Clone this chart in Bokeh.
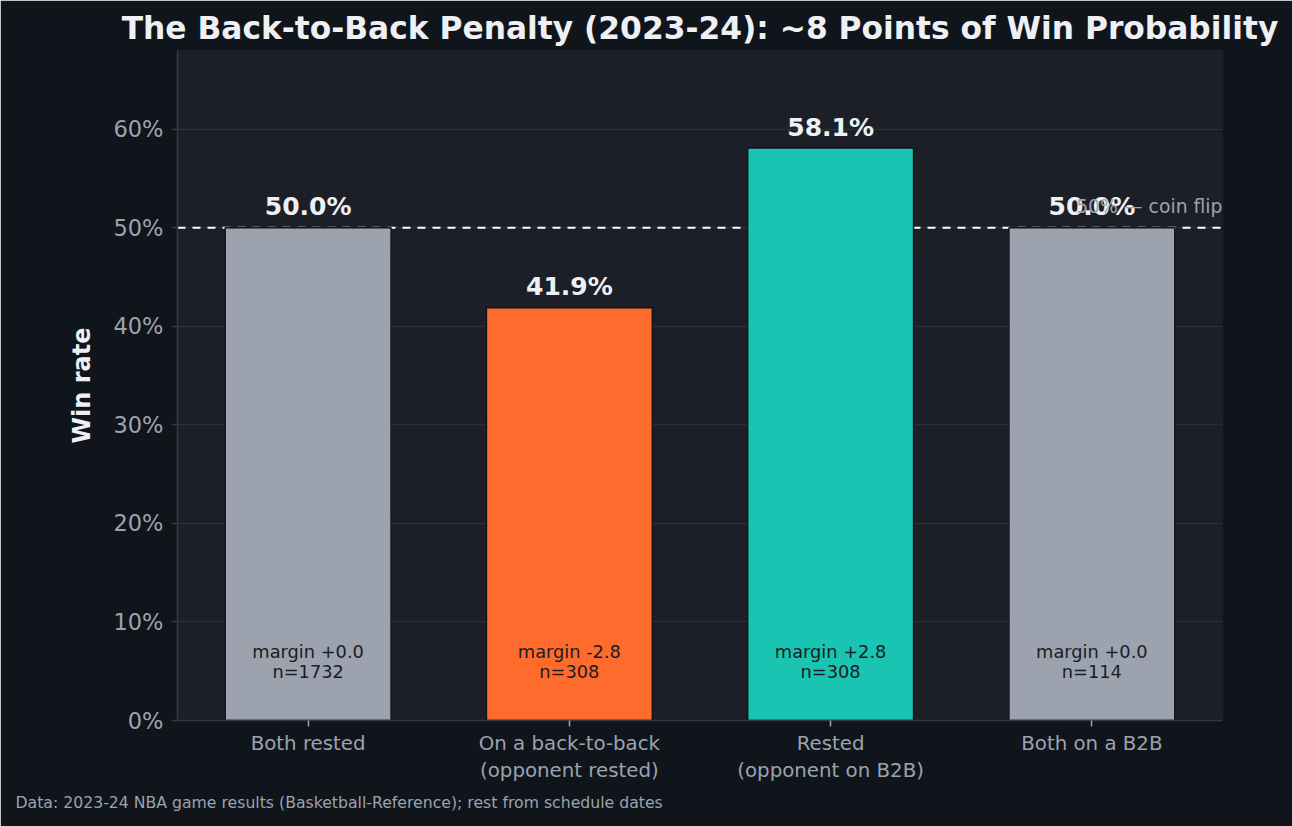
from bokeh.plotting import figure
from bokeh.models import (ColumnDataSource, Range1d, FixedTicker, NumeralTickFormatter,
                          Span, Label, LabelSet, Title)
from bokeh.core.properties import value
from bokeh.embed import file_html
from bokeh.resources import INLINE

categories = ["Both rested", "On a back-to-back\n(opponent rested)",
              "Rested\n(opponent on B2B)", "Both on a B2B"]
win_rate = [0.500, 0.419, 0.581, 0.500]
margins = ["+0.0", "-2.8", "+2.8", "+0.0"]
counts = [1732, 308, 308, 114]
colors = ["#9ca3af", "#ff6b2c", "#19c4b2", "#9ca3af"]
y_ticks = [0.0, 0.1, 0.2, 0.3, 0.4, 0.5, 0.6]

FONT = "DejaVu Sans"
BG = "#10141b"
PLOT_BG = "#1c1f27"
GRID = "#2b2f39"
TICKC = "#9ca3af"
TITLEC = "#eef0f4"

idx = list(range(len(categories)))
src = ColumnDataSource(dict(
    x=idx, top=win_rate, color=colors,
    vlabel=[f"{v*100:.1f}%" for v in win_rate],
    mline=[f"margin {m}" for m in margins],
    nline=[f"n={n}" for n in counts],
))

p = figure(width=1292, height=826, output_backend="svg", toolbar_location=None,
           x_range=Range1d(-0.5, 3.5), y_range=Range1d(0, 0.68),
           min_border_left=177, min_border_right=70, min_border_top=50,
           min_border_bottom=106)
p.background_fill_color = PLOT_BG
p.border_fill_color = BG
p.outline_line_color = PLOT_BG
p.outline_line_width = 1.5

p.title.text = "The Back-to-Back Penalty (2023-24): ~8 Points of Win Probability"
p.title.align = "center"
p.title.text_font = FONT
p.title.text_font_style = "bold"
p.title.text_font_size = "31.3px"
p.title.text_color = TITLEC
p.title.standoff = 10

p.vbar(x="x", top="top", width=0.635, bottom=0, source=src, fill_color="color",
       line_color="#11151c", line_width=1.5)

p.add_layout(Span(location=0.5, dimension="width", line_color="#ffffff",
                  line_dash="8 7", line_width=2, level="underlay"))

p.add_layout(LabelSet(x="x", y="top", text="vlabel", source=src, y_offset=21,
                      text_align="center", text_baseline="middle",
                      text_font=value(FONT), text_font_style="bold",
                      text_font_size="25px", text_color=TITLEC))
p.add_layout(LabelSet(x="x", y=0, text="mline", source=src, y_offset=69,
                      text_align="center", text_baseline="middle",
                      text_font=value(FONT), text_font_size="17.8px",
                      text_color="#1a1d24"))
p.add_layout(LabelSet(x="x", y=0, text="nline", source=src, y_offset=49,
                      text_align="center", text_baseline="middle",
                      text_font=value(FONT), text_font_size="17.8px",
                      text_color="#1a1d24"))

p.add_layout(Label(x=3.5, y=0.5, y_offset=21, text="50% — coin flip",
                   text_align="right", text_baseline="middle",
                   text_font=FONT, text_font_size="18.8px", text_color=TICKC))

# axes
p.xgrid.grid_line_color = None
p.ygrid.grid_line_color = GRID
p.ygrid.grid_line_width = 1.5
p.ygrid.ticker = FixedTicker(ticks=y_ticks)

p.yaxis.ticker = FixedTicker(ticks=y_ticks)
p.yaxis.formatter = NumeralTickFormatter(format="0%")
p.yaxis.axis_label = "Win rate"
p.yaxis.axis_label_text_font = FONT
p.yaxis.axis_label_text_font_style = "bold"
p.yaxis.axis_label_text_font_size = "24px"
p.yaxis.axis_label_text_color = TITLEC
p.yaxis.axis_label_standoff = 14
p.yaxis.major_label_text_font = FONT
p.yaxis.major_label_text_font_size = "22.5px"
p.yaxis.major_label_text_color = TICKC
p.yaxis.major_label_standoff = 8
p.yaxis.axis_line_color = "#343946"
p.yaxis.axis_line_width = 1.5
p.yaxis.major_tick_line_color = "#343946"
p.yaxis.major_tick_line_width = 1.5
p.yaxis.major_tick_out = 6
p.yaxis.major_tick_in = 0
p.yaxis.minor_tick_line_color = None

p.xaxis.ticker = FixedTicker(ticks=idx)
p.xaxis.major_label_overrides = {i: c for i, c in zip(idx, categories)}
p.xaxis.major_label_text_font = FONT
p.xaxis.major_label_text_font_size = "19.8px"
p.xaxis.major_label_text_color = TICKC
p.xaxis.major_label_standoff = 5
p.xaxis.axis_line_color = "#343946"
p.xaxis.axis_line_width = 1.5
p.xaxis.major_tick_line_color = TICKC
p.xaxis.major_tick_line_width = 1.5
p.xaxis.major_tick_out = 6
p.xaxis.major_tick_in = 0
p.xaxis.minor_tick_line_color = None

footer = Title(text="Data: 2023-24 NBA game results (Basketball-Reference); rest from schedule dates",
               align="left", offset=-162, text_font=FONT, text_font_size="15.7px",
               text_font_style="normal", text_color=TICKC, standoff=10)
p.add_layout(footer, "below")

html = file_html(p, INLINE)
html = html.replace("<body>", '<body style="margin:0;background:%s;">' % BG, 1)
open("out.html", "w").write(html)
